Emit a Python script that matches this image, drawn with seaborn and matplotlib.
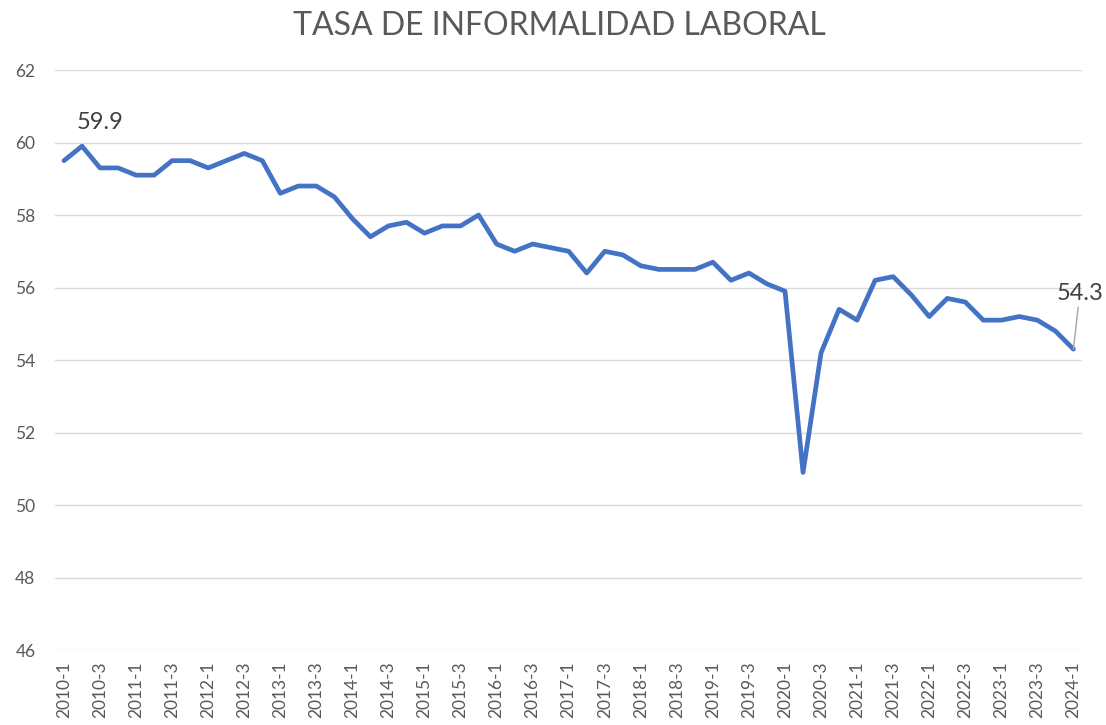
import matplotlib
matplotlib.use("Agg")
import matplotlib.pyplot as plt
import numpy as np
import pandas as pd
import seaborn as sns

# quarterly periods 2010-1 .. 2024-1
years = list(range(2010, 2025))
periods = [f"{y}-{q}" for y in years for q in (1, 2, 3, 4)][:57]

tasa = [59.5, 59.9, 59.3, 59.3, 59.1, 59.1, 59.5, 59.5, 59.3, 59.5,
        59.7, 59.5, 58.6, 58.8, 58.8, 58.5, 57.9, 57.4, 57.7, 57.8,
        57.5, 57.7, 57.7, 58.0, 57.2, 57.0, 57.2, 57.1, 57.0, 56.4,
        57.0, 56.9, 56.6, 56.5, 56.5, 56.5, 56.7, 56.2, 56.4, 56.1,
        55.9, 50.9, 54.2, 55.4, 55.1, 56.2, 56.3, 55.8, 55.2, 55.7,
        55.6, 55.1, 55.1, 55.2, 55.1, 54.8, 54.3]

df = pd.DataFrame({"periodo": periods, "tasa": tasa})
df["i"] = np.arange(len(df))

sns.set_theme(style="white")
plt.rcParams["font.family"] = ["Lato", "DejaVu Sans"]

GRAY = "#595959"
fig = plt.figure(figsize=(11.06, 7.25), dpi=100)
ax = fig.add_axes([0.0497, 0.1034, 0.929, 0.8])

sns.lineplot(data=df, x="i", y="tasa", color="#4472C4", linewidth=3.4, ax=ax)

ax.set_ylim(46, 62)
ax.set_yticks(range(46, 63, 2))
ax.set_xlim(-0.5, 56.5)
ticks = df["i"][::2]
ax.set_xticks(ticks)
ax.set_xticklabels(df["periodo"][::2], rotation=90, fontsize=12.5, color=GRAY)
ax.tick_params(axis="y", labelsize=12.5, labelcolor=GRAY, length=0, pad=14)
ax.tick_params(axis="x", length=0, pad=8)
ax.grid(axis="y", color="#D9D9D9", linewidth=1)
ax.set_axisbelow(True)
for s in ax.spines.values():
    s.set_visible(False)
ax.set_xlabel("")
ax.set_ylabel("")

ax.annotate("59.9", xy=(1, 59.9), xytext=(2.0, 60.25), ha="center", va="bottom",
            fontsize=17, color="#404040")
ax.annotate("54.3", xy=(56, 54.3), xytext=(56.35, 55.55), ha="center", va="bottom",
            fontsize=17, color="#404040", annotation_clip=False,
            arrowprops=dict(arrowstyle="-", color="#A6A6A6", linewidth=1,
                            shrinkA=0, shrinkB=0))

fig.suptitle("TASA DE INFORMALIDAD LABORAL", x=0.506, y=0.985, fontsize=23,
             color=GRAY)

plt.savefig("out.png", dpi=100)
plt.close()
